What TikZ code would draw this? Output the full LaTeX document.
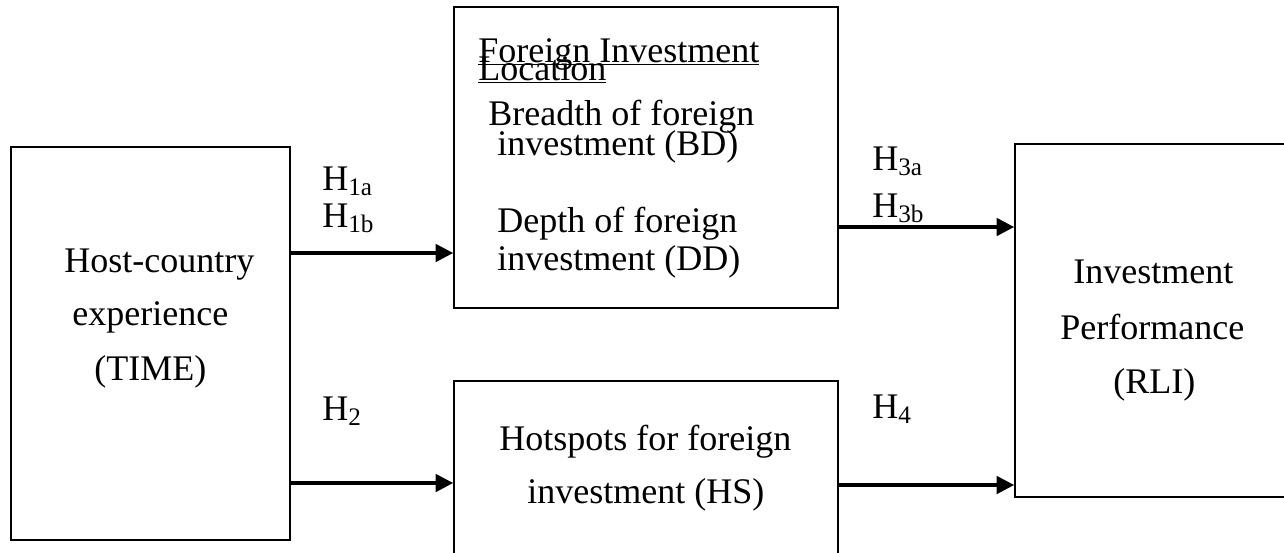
\documentclass[tikz,border=0pt]{standalone}
\usepackage{fontspec}
\setmainfont{Liberation Serif}
\usetikzlibrary{arrows.meta}

\tikzset{
  box/.style={draw, line width=1pt, inner sep=0pt},
  txt/.style={anchor=base west, inner sep=0pt, font=\fontsize{20.5}{24}\selectfont},
  arr/.style={line width=1.8pt, -{Triangle[length=10pt,width=10pt]}}
}

\begin{document}
\begin{tikzpicture}[x=0.02cm, y=-0.02cm]
  \useasboundingbox (0,0) rectangle (1284,552);
  \clip (0,0) rectangle (1284,552);

  \node[box, minimum width=5.58cm, minimum height=7.86cm] (time) at (150.5,343.5) {};
  \node[box, minimum width=7.68cm, minimum height=6.02cm] (loc) at (646,157.5) {};
  \node[box, minimum width=7.68cm, minimum height=4.38cm] (hs) at (646,490.5) {};
  \node[box, minimum width=6.1cm, minimum height=7.06cm] (rli) at (1167.5,320.5) {};

  \node[txt] (time1) at (64,272) {Host-country};
  \node[txt] (time2) at (72,325) {experience};
  \node[txt] (time3) at (94,380) {(TIME)};

  \node[txt] (loc1) at (478,62) {\underline{\smash{Foreign Investment}}};
  \node[txt] (loc2) at (478,80) {\underline{\smash{Location}}};
  \node[txt] (loc3) at (488,125) {Breadth of foreign};
  \node[txt] (loc4) at (497,155) {investment (BD)};
  \node[txt] (loc5) at (497,232) {Depth of foreign};
  \node[txt] (loc6) at (497,270) {investment (DD)};

  \node[txt] (hs1) at (499,450) {Hotspots for foreign};
  \node[txt] (hs2) at (527,503) {investment (HS)};

  \node[txt] (rli1) at (1073,283) {Investment};
  \node[txt] (rli2) at (1060,339) {Performance};
  \node[txt] (rli3) at (1113,393) {(RLI)};

  \node[txt] (h1a) at (322,190) {H\textsubscript{1a}};
  \node[txt] (h1b) at (322,227) {H\textsubscript{1b}};
  \node[txt] (h2) at (322,420) {H\textsubscript{2}};
  \node[txt] (h3a) at (872,170) {H\textsubscript{3a}};
  \node[txt] (h3b) at (872,217) {H\textsubscript{3b}};
  \node[txt] (h4) at (872,418) {H\textsubscript{4}};

  \draw[arr] (time.east |- 0,253) -- (loc.west |- 0,253);
  \draw[arr] (time.east |- 0,483) -- (hs.west |- 0,483);
  \draw[arr] (loc.east |- 0,227) -- (rli.west |- 0,227);
  \draw[arr] (hs.east |- 0,485) -- (rli.west |- 0,485);
\end{tikzpicture}
\end{document}
